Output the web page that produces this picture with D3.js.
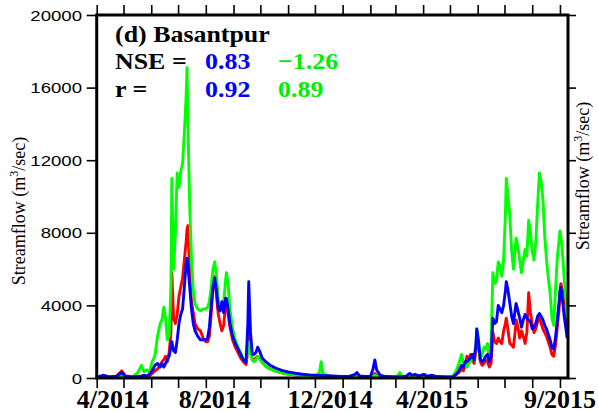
<!DOCTYPE html>
<html>
<head>
<meta charset="utf-8">
<script src="https://cdn.jsdelivr.net/npm/d3@7/dist/d3.min.js"></script>
<style>
  html, body { margin: 0; padding: 0; background: #fff; }
  svg { display: block; }
</style>
</head>
<body>
<svg id="chart" width="598" height="411"></svg>
<script>
// Daily streamflow at Basantpur, observed and two simulations.
const startDate = "2014-04-01";
const endDate = "2015-09-10";

// Days elapsed since startDate for each sample
const dayIndex = [
  0, 7, 14, 22, 28, 32, 40, 46, 50, 53, 56, 59, 62, 65, 68, 71, 73, 75, 77, 79,
  81, 83, 84, 86, 88, 90, 92, 94, 96, 98, 100, 101, 102, 104, 106, 108, 110, 113, 116, 119,
  122, 124, 126, 128, 130, 132, 134, 136, 138, 140, 142, 144, 145, 147, 149, 152, 155, 158, 161, 164,
  167, 169, 170, 172, 174, 176, 178, 180, 182, 185, 189, 194, 200, 207, 214, 222, 230, 238, 245, 249,
  251, 253, 260, 268, 275, 282, 289, 291, 294, 300, 306, 309, 311, 313, 317, 323, 330, 336, 339, 341,
  346, 350, 353, 356, 360, 366, 370, 375, 380, 386, 392, 398, 402, 405, 408, 410, 412, 414, 416, 418,
  420, 422, 424, 425, 427, 429, 431, 433, 435, 437, 439, 441, 443, 445, 447, 449, 451, 453, 455, 457,
  458, 460, 462, 464, 466, 468, 469, 471, 473, 475, 477, 479, 481, 483, 485, 487, 489, 491, 493, 495,
  497, 499, 501, 503, 505, 507, 509, 511, 513, 515, 517, 518, 519, 521, 523, 525, 526
];

// Red series (m3/sec)
const redFlow = [
  50, 80, 60, 80, 400, 120, 60, 80, 100, 150, 100, 120, 250, 400, 500, 700, 900, 1000, 1200, 900,
  1400, 2500, 5800, 3300, 3000, 3500, 4500, 5000, 5500, 6500, 7500, 8200, 8400, 5800, 4200, 3600, 3000, 2700, 2600, 2200,
  2000, 2000, 2300, 3500, 5000, 5600, 4500, 3500, 3000, 2600, 2900, 4000, 4300, 3500, 2800, 2100, 1700, 1400, 1100, 900,
  750, 1500, 3000, 1500, 1000, 1000, 1100, 1200, 1100, 850, 650, 500, 380, 280, 220, 170, 140, 120, 100, 100,
  150, 100, 90, 80, 70, 70, 80, 100, 70, 60, 60, 150, 250, 150, 80, 60, 50, 50, 60, 50,
  60, 150, 80, 100, 80, 100, 70, 100, 60, 50, 50, 60, 200, 300, 500, 400, 700, 1200, 1000, 1300,
  1100, 800, 1500, 2500, 1700, 900, 700, 800, 1000, 900, 600, 800, 2500, 2000, 1900, 2200, 2000, 1900, 2600, 3000,
  3300, 2600, 1900, 1800, 1700, 2600, 3200, 2800, 2200, 2600, 2300, 1900, 2500, 4700, 3600, 3000, 2500, 2700, 3100, 3350,
  3000, 2700, 2500, 2300, 2000, 1700, 1300, 1200, 1800, 2800, 3800, 4600, 5200, 4800, 3800, 3000, 2800
];

// Blue series (m3/sec)
const blueFlow = [
  50, 150, 60, 100, 300, 100, 60, 80, 100, 150, 100, 200, 400, 700, 800, 600, 800, 600, 800, 1000,
  1200, 1700, 2000, 1500, 1400, 2100, 3000, 3500, 3800, 5000, 6300, 6600, 6200, 5000, 3800, 3000, 2600, 2300, 2100, 2100,
  2100, 2200, 2800, 4000, 5000, 5500, 4800, 3800, 3700, 4200, 3600, 4400, 4400, 3800, 3000, 2300, 1900, 1600, 1300, 1000,
  850, 3000, 5300, 2500, 1300, 1300, 1400, 1700, 1500, 1100, 900, 700, 550, 420, 330, 260, 210, 170, 150, 140,
  150, 130, 120, 100, 90, 90, 200, 300, 120, 80, 80, 500, 1000, 450, 150, 80, 70, 60, 70, 60,
  100, 250, 150, 200, 120, 200, 100, 150, 80, 70, 60, 60, 200, 400, 700, 600, 900, 900, 1000, 1100,
  1300, 1000, 1800, 2700, 2000, 1000, 900, 1000, 1200, 1300, 900, 1200, 3300, 3000, 3100, 4000, 3800, 3600, 4000, 4800,
  5300, 4800, 4100, 3400, 3000, 3800, 4100, 3700, 3300, 2800, 3200, 3500, 3300, 3200, 3100, 2700, 2800, 3000, 3400, 3550,
  3400, 3200, 2900, 2700, 2400, 2100, 1700, 1600, 2200, 3200, 4200, 4800, 5000, 4200, 3300, 2600, 2200
];

// Green series (m3/sec)
const greenFlow = [
  50, 60, 40, 60, 150, 60, 60, 300, 700, 350, 450, 300, 900, 1200, 2300, 3000, 3200, 3900, 3300, 2100,
  2400, 5000, 11000, 6000, 8000, 11300, 10500, 11400, 11800, 13500, 15500, 17100, 14000, 9500, 6500, 4800, 4100, 3800, 3700, 3800,
  3800, 3900, 4200, 5000, 6000, 6400, 5600, 4300, 4000, 4100, 4200, 5300, 5800, 5200, 3800, 2700, 2100, 1700, 1400, 1000,
  850, 1500, 2000, 1400, 1000, 900, 1000, 1200, 1100, 850, 650, 500, 380, 280, 220, 170, 140, 120, 110, 300,
  900, 250, 90, 80, 70, 70, 80, 90, 70, 60, 60, 100, 150, 100, 70, 60, 50, 100, 300, 100,
  60, 120, 70, 100, 80, 150, 80, 150, 70, 60, 60, 80, 400, 800, 1300, 800, 700, 600, 800, 900,
  1200, 1000, 1800, 2700, 2000, 1000, 1300, 1700, 1600, 1900, 1100, 2000, 5800, 5200, 5300, 6400, 6200, 5600, 6500, 9000,
  11000, 10000, 8900, 7000, 6000, 7200, 7700, 7200, 6500, 5800, 6500, 7100, 6700, 8700, 8000, 7000, 6500, 7500, 9500, 11300,
  10800, 9800, 7800, 6500, 5500, 4700, 3300, 2900, 4800, 6600, 7600, 8100, 7800, 6800, 5300, 4300, 3300
];

const nseValues = ["0.83", "\u22121.26"];
const rValues = ["0.92", "0.89"];
const statColors = ["#0000ff", "#00ee00"];

const yTicks = [0, 4000, 8000, 12000, 16000, 20000];
const xTickLabels = ["4/2014", "8/2014", "12/2014", "4/2015", "9/2015"];
const xTickLabelDays = [18, 132, 261, 375, 518];

const parse = d3.timeParse("%Y-%m-%d");
const t0 = parse(startDate);
const t1 = parse(endDate);
const toDate = n => d3.timeDay.offset(t0, n);

const svg = d3.select("#chart");
const frame = { left: 96.7, right: 568, top: 15, bottom: 378 };

const x = d3.scaleTime().domain([t0, t1]).range([frame.left, frame.right]);
const y = d3.scaleLinear().domain([0, 20000]).range([frame.bottom, frame.top]);

const series = [
  { values: redFlow, color: "#ff0000" },
  { values: greenFlow, color: "#00ff00" },
  { values: blueFlow, color: "#0000ff" }
];

const line = d3.line()
  .x((d, i) => x(toDate(dayIndex[i])))
  .y(d => y(d));

const plot = svg.append("g");
series.forEach(s => {
  plot.append("path")
    .attr("d", line(s.values))
    .attr("fill", "none")
    .attr("stroke", s.color)
    .attr("stroke-width", 2.9)
    .attr("stroke-linejoin", "round");
});

// Ticks: monthly on top and bottom, every 4000 on both sides, all pointing outward
const months = d3.timeMonth.range(t0, t1);
const tickLen = 10;
const axisBottom = d3.axisBottom(x).tickValues(months).tickSize(tickLen).tickFormat("");
const axisTop = d3.axisTop(x).tickValues(months).tickSize(tickLen).tickFormat("");
const axisLeft = d3.axisLeft(y).tickValues(yTicks).tickSize(tickLen).tickFormat("");
const axisRight = d3.axisRight(y).tickValues(yTicks).tickSize(8).tickFormat("");

function styleAxis(g) {
  g.select(".domain").remove();
  g.selectAll(".tick line").attr("stroke", "#000").attr("stroke-width", 1.6);
}
svg.append("g").attr("transform", `translate(0,${frame.bottom})`).call(axisBottom).call(styleAxis);
svg.append("g").attr("transform", `translate(0,${frame.top})`).call(axisTop).call(styleAxis);
svg.append("g").attr("transform", `translate(${frame.left},0)`).call(axisLeft).call(styleAxis);
svg.append("g").attr("transform", `translate(${frame.right},0)`).call(axisRight).call(styleAxis);

// Frame
svg.append("rect")
  .attr("x", frame.left).attr("y", frame.top)
  .attr("width", frame.right - frame.left).attr("height", frame.bottom - frame.top)
  .attr("fill", "none").attr("stroke", "#000").attr("stroke-width", 3);

// Helper for horizontally widened text
function label(x0, y0, str, opt) {
  const g = svg.append("g").attr("transform", `translate(${x0},${y0}) scale(${opt.sx || 1},1)`);
  return g.append("text")
    .attr("x", 0).attr("y", 0)
    .attr("font-family", opt.family)
    .attr("font-size", opt.size)
    .attr("font-weight", opt.weight || "normal")
    .attr("fill", opt.color || "#000")
    .attr("text-anchor", opt.anchor || "start")
    .text(str);
}

// Y tick labels
yTicks.forEach(v => {
  label(82, y(v) + 5.5, String(v), { family: "Liberation Sans, Arial, sans-serif", size: 15.5, sx: 1.2, anchor: "end" });
});

// X tick labels
xTickLabels.forEach((s, i) => {
  label(x(toDate(xTickLabelDays[i])), 407.5, s, { family: "Liberation Serif, Times New Roman, serif", size: 24.5, weight: "bold", sx: 1.06, anchor: "middle" });
});

// Title and statistics
const serifB = { family: "Liberation Serif, Times New Roman, serif", size: 24, weight: "bold", sx: 1.08 };
label(115, 42, "(d) Basantpur", serifB);
label(115, 69, "NSE =", serifB);
label(115, 97, "r =", serifB);
[nseValues, rValues].forEach((row, r) => {
  row.forEach((s, i) => {
    label([205, 278][i], [69, 97][r], s, Object.assign({}, serifB, { color: statColors[i] }));
  });
});

// Axis titles (left panel and the neighbouring panel on the right)
function yTitle(cx, cy) {
  const t = svg.append("text")
    .attr("transform", `translate(${cx},${cy}) rotate(-90)`)
    .attr("text-anchor", "middle")
    .attr("font-family", "Liberation Serif, Times New Roman, serif")
    .attr("font-size", 18)
    .attr("fill", "#000");
  t.append("tspan").text("Streamflow (m");
  t.append("tspan").attr("font-size", 12).attr("dy", -7).text("3");
  t.append("tspan").attr("dy", 7).text("/sec)");
}
yTitle(25, 211);
yTitle(589, 176);
</script>
</body>
</html>
